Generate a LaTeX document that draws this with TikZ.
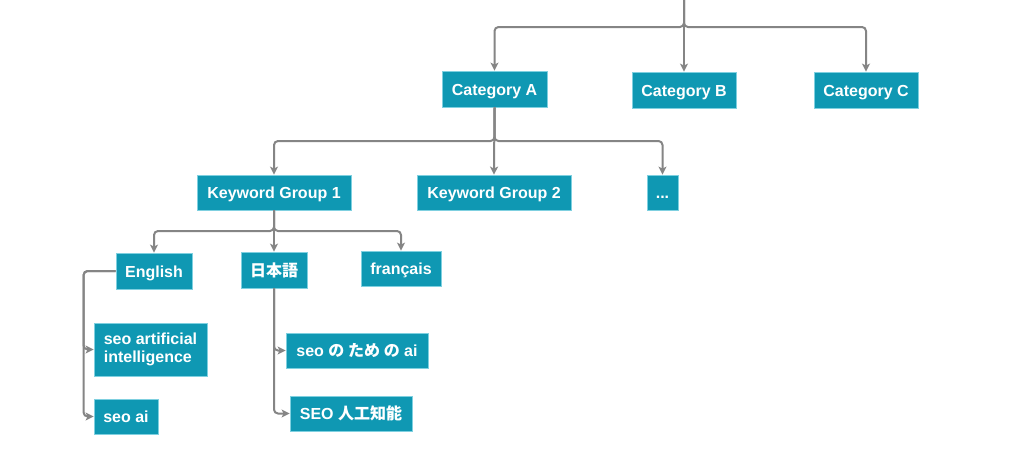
\documentclass[tikz,border=0pt]{standalone}
\usepackage{fontspec}
\setmainfont{Liberation Sans}
\newfontfamily\cjk{Noto Sans CJK JP}
\usetikzlibrary{arrows.meta}
\definecolor{boxfill}{HTML}{0F98B3}
\definecolor{boxline}{HTML}{7FD0E0}
\definecolor{conn}{HTML}{858585}
\begin{document}
\begin{tikzpicture}[x=1pt,y=-1pt,
  box/.style={draw=boxline, line width=0.8pt, fill=boxfill, text=white,
    font=\fontsize{16}{18}\selectfont\bfseries, inner sep=0pt, anchor=center,
    text height=15pt, text depth=3pt},
  link/.style={draw=conn, line width=2pt, rounded corners=4pt,
    -{Stealth[length=8pt,width=8pt,inset=2pt]}}]
\useasboundingbox[fill=white] (0,0) rectangle (1024,461);

\node[box, minimum width=105, minimum height=36] (catA) at (494.5,89) {Category A};
\node[box, minimum width=104, minimum height=36] (catB) at (684,90) {Category B};
\node[box, minimum width=104, minimum height=36] (catC) at (866,90) {Category C};

\node[box, minimum width=154, minimum height=35] (kg1) at (274,192.5) {Keyword Group 1};
\node[box, minimum width=154, minimum height=35] (kg2) at (494,192.5) {Keyword Group 2};
\node[box, minimum width=31, minimum height=35] (dots) at (662.5,192.5) {.{}.{}.};

\node[box, minimum width=76, minimum height=36] (en) at (154,271) {English};
\node[box, minimum width=66, minimum height=36] (ja) at (274,270) {{\cjk 日本語}};
\node[box, minimum width=80, minimum height=35] (fr) at (401,268.5) {français};

\node[box, minimum width=113, minimum height=53, align=left, text height=, text depth=] (sai) at (150.5,349.5) {seo artificial\\intelligence};
\node[box, minimum width=64, minimum height=35] (seoai) at (126,416.5) {seo ai};
\node[box, minimum width=142, minimum height=35] (jp1) at (357,350.5) {seo {\cjk の ため の} ai};
\node[box, minimum width=122, minimum height=35] (jp2) at (351,413.5) {SEO {\cjk 人工知能}};

\coordinate (top) at (684,0);
\coordinate (j0) at (684,27);
\coordinate (j1) at (494.5,141);
\coordinate (j2) at (274,231);

\draw[link] (top) -- (j0) -| (catA.north);
\draw[link] (top) -- (catB.north);
\draw[link] (top) -- (j0) -| (catC.north);

\draw[link] (catA.south) -- (j1) -| (kg1.north);
\draw[link] (catA.south) -- (kg2.north);
\draw[link] (catA.south) -- (j1) -| (dots.north);

\draw[link] (kg1.south) -- (j2) -| (en.north);
\draw[link] (kg1.south) -- (ja.north);
\draw[link] (kg1.south) -- (j2) -| (fr.north);

\draw[link] (en.west) -- ++(-32,0) |- (sai.west);
\draw[link] (en.west) -- ++(-32,0) |- (seoai.west);

\draw[link] (ja.south) |- (jp1.west);
\draw[link] (ja.south) |- (jp2.west);
\end{tikzpicture}
\end{document}
